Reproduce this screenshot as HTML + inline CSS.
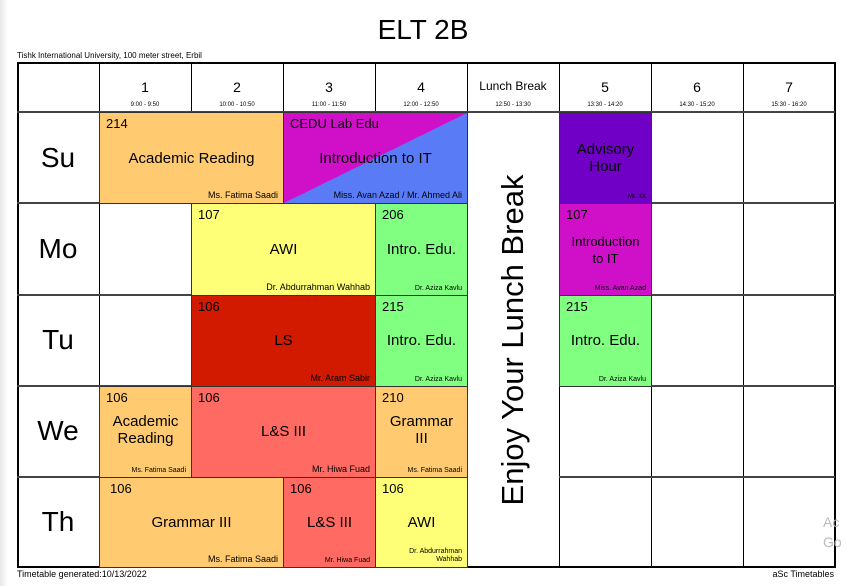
<!DOCTYPE html><html><head><style>
body{margin:0;width:846px;height:586px;background:#fff;position:relative;overflow:hidden;font-family:"Liberation Sans",sans-serif;color:#000}
.a{position:absolute;box-sizing:border-box}
.c{position:absolute;box-sizing:border-box;border:1px solid #333;overflow:hidden}
.r{position:absolute;left:6px;top:3px;font-size:13px}
.t{position:absolute;left:0;right:0;text-align:center;font-size:15px;line-height:17px}
.n{position:absolute;right:5px;bottom:3px;font-size:9px;text-align:right}
.h{position:absolute;text-align:center;font-size:14px}
.hs{position:absolute;text-align:center;font-size:6px}
.d{position:absolute;left:17px;width:82px;text-align:center;font-size:28px}
</style></head><body>
<div class="a" style="left:0;top:0;width:8px;height:586px;background:linear-gradient(90deg,#e8e8e8,#fff)"></div>
<div class="a" style="left:0;top:14px;width:846px;text-align:center;font-size:28px">ELT 2B</div>
<div class="a" style="left:17px;top:51px;font-size:8px">Tishk International University, 100 meter street, Erbil</div>
<div class="a" style="left:17px;top:62px;width:819px;height:506px;border:2px solid #000"></div>
<svg class="a" style="left:0;top:0" width="846" height="586">
<g stroke="#000" stroke-width="1">
<line x1="99.5" y1="62" x2="99.5" y2="567"/><line x1="191.5" y1="62" x2="191.5" y2="567"/><line x1="283.5" y1="62" x2="283.5" y2="567"/><line x1="375.5" y1="62" x2="375.5" y2="567"/><line x1="467.5" y1="62" x2="467.5" y2="567"/><line x1="559.5" y1="62" x2="559.5" y2="567"/><line x1="651.5" y1="62" x2="651.5" y2="567"/><line x1="743.5" y1="62" x2="743.5" y2="567"/>
</g>
<g stroke="#444" stroke-width="2">
<line x1="17" y1="112" x2="467" y2="112"/><line x1="559" y1="112" x2="835" y2="112"/>
<line x1="17" y1="203" x2="467" y2="203"/><line x1="559" y1="203" x2="835" y2="203"/>
<line x1="17" y1="295" x2="467" y2="295"/><line x1="559" y1="295" x2="835" y2="295"/>
<line x1="17" y1="386" x2="467" y2="386"/><line x1="559" y1="386" x2="835" y2="386"/>
<line x1="17" y1="477" x2="467" y2="477"/><line x1="559" y1="477" x2="835" y2="477"/>
<line x1="467" y1="112" x2="559" y2="112"/>
</g></svg>
<div class="h" style="left:99px;width:92px;top:79px">1</div><div class="hs" style="left:99px;width:92px;top:102px">9:00 - 9:50</div>
<div class="h" style="left:191px;width:92px;top:79px">2</div><div class="hs" style="left:191px;width:92px;top:102px">10:00 - 10:50</div>
<div class="h" style="left:283px;width:92px;top:79px">3</div><div class="hs" style="left:283px;width:92px;top:102px">11:00 - 11:50</div>
<div class="h" style="left:375px;width:92px;top:79px">4</div><div class="hs" style="left:375px;width:92px;top:102px">12:00 - 12:50</div>
<div class="h" style="left:467px;width:92px;top:79px;font-size:12px">Lunch Break</div><div class="hs" style="left:467px;width:92px;top:102px">12:50 - 13:30</div>
<div class="h" style="left:559px;width:92px;top:79px">5</div><div class="hs" style="left:559px;width:92px;top:102px">13:30 - 14:20</div>
<div class="h" style="left:651px;width:92px;top:79px">6</div><div class="hs" style="left:651px;width:92px;top:102px">14:30 - 15:20</div>
<div class="h" style="left:743px;width:92px;top:79px">7</div><div class="hs" style="left:743px;width:92px;top:102px">15:30 - 16:20</div>
<div class="d" style="top:142px">Su</div><div class="d" style="top:233px">Mo</div><div class="d" style="top:324px">Tu</div><div class="d" style="top:415px">We</div><div class="d" style="top:506px">Th</div>
<div class="c" style="left:99px;top:112px;width:185px;height:92px;background:#FFCA70"><div class="r">214</div><div class="t" style="top:37px">Academic Reading</div><div class="n">Ms. Fatima Saadi</div></div>
<div class="c" style="left:283px;top:112px;width:185px;height:92px;background:linear-gradient(to top left,#5A7BF6 50%,#D010C8 50%)"><div class="r">CEDU Lab Edu</div><div class="t" style="top:37px">Introduction to IT</div><div class="n">Miss. Avan Azad / Mr. Ahmed Ali</div></div>
<div class="c" style="left:559px;top:112px;width:93px;height:92px;background:#7000C6"><div class="t" style="top:28px">Advisory<br>Hour</div><div class="n" style="font-size:6px">Mr. XX</div></div>
<div class="c" style="left:191px;top:203px;width:185px;height:93px;background:#FFFF77"><div class="r">107</div><div class="t" style="top:37px">AWI</div><div class="n">Dr. Abdurrahman Wahhab</div></div>
<div class="c" style="left:375px;top:203px;width:93px;height:93px;background:#80FF80"><div class="r">206</div><div class="t" style="top:37px">Intro. Edu.</div><div class="n" style="font-size:7px">Dr. Aziza Kavlu</div></div>
<div class="c" style="left:559px;top:203px;width:93px;height:93px;background:#D010C8"><div class="r">107</div><div class="t" style="top:29px;font-size:13px">Introduction<br>to IT</div><div class="n" style="font-size:7px">Miss. Avan Azad</div></div>
<div class="c" style="left:191px;top:295px;width:185px;height:92px;background:#D11A00"><div class="r">106</div><div class="t" style="top:36px">LS</div><div class="n">Mr. Aram Sabir</div></div>
<div class="c" style="left:375px;top:295px;width:93px;height:92px;background:#80FF80"><div class="r">215</div><div class="t" style="top:36px">Intro. Edu.</div><div class="n" style="font-size:7px">Dr. Aziza Kavlu</div></div>
<div class="c" style="left:559px;top:295px;width:93px;height:92px;background:#80FF80"><div class="r">215</div><div class="t" style="top:36px">Intro. Edu.</div><div class="n" style="font-size:7px">Dr. Aziza Kavlu</div></div>
<div class="c" style="left:99px;top:386px;width:93px;height:92px;background:#FFCA70"><div class="r">106</div><div class="t" style="top:26px">Academic<br>Reading</div><div class="n" style="font-size:7px">Ms. Fatima Saadi</div></div>
<div class="c" style="left:191px;top:386px;width:185px;height:92px;background:#FF6A63"><div class="r">106</div><div class="t" style="top:36px">L&amp;S III</div><div class="n">Mr. Hiwa Fuad</div></div>
<div class="c" style="left:375px;top:386px;width:93px;height:92px;background:#FFCA70"><div class="r">210</div><div class="t" style="top:26px">Grammar<br>III</div><div class="n" style="font-size:7px">Ms. Fatima Saadi</div></div>
<div class="c" style="left:99px;top:477px;width:185px;height:91px;background:#FFCA70"><div class="r" style="left:10px">106</div><div class="t" style="top:36px">Grammar III</div><div class="n">Ms. Fatima Saadi</div></div>
<div class="c" style="left:283px;top:477px;width:93px;height:91px;background:#FF6A63"><div class="r">106</div><div class="t" style="top:36px">L&amp;S III</div><div class="n" style="font-size:7px">Mr. Hiwa Fuad</div></div>
<div class="c" style="left:375px;top:477px;width:93px;height:91px;background:#FFFF77"><div class="r">106</div><div class="t" style="top:36px">AWI</div><div class="n" style="font-size:7px;line-height:8px">Dr. Abdurrahman<br>Wahhab</div></div>
<div class="a" style="left:513px;top:340px;transform:translate(-50%,-50%) rotate(-90deg);font-size:31px;white-space:nowrap">Enjoy Your Lunch Break</div>
<div class="a" style="left:17px;top:569px;font-size:9px">Timetable generated:10/13/2022</div>
<div class="a" style="right:12px;top:569px;font-size:9px">aSc Timetables</div>
<div class="a" style="left:823px;top:512px;font-size:14px;color:#bbb;line-height:20px">Ac<br>Go</div>
</body></html>
